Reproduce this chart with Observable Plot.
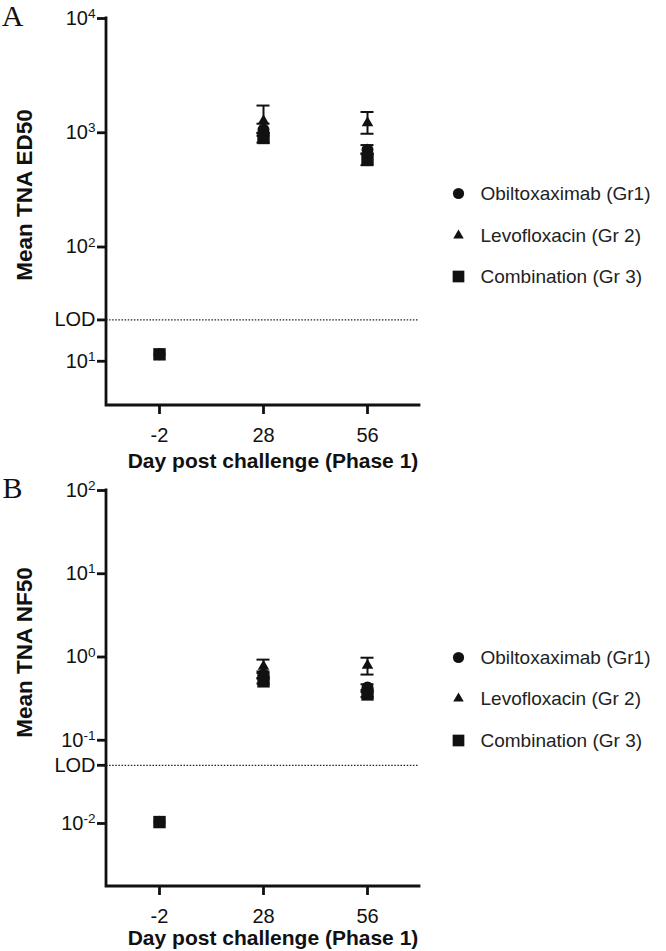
<!DOCTYPE html>
<html>
<head>
<meta charset="utf-8">
<script src="https://cdn.jsdelivr.net/npm/d3@7"></script>
<script src="https://cdn.jsdelivr.net/npm/@observablehq/plot@0.6"></script>
<style>
  html, body { margin: 0; padding: 0; background: #fff; }
  #wrap { width: 666px; }
  svg { display: block; }
</style>
</head>
<body>
<div id="wrap"></div>
<script>
// ---- data ----
const days = ["-2", "28", "56"];
const groups = ["Obiltoxaximab (Gr1)", "Levofloxacin (Gr 2)", "Combination (Gr 3)"];
const symbols = ["circle", "triangle", "square"];

// Panel A: Mean TNA ED50
const lodA = 23;
const edMean = {
  "Obiltoxaximab (Gr1)": [11.5, 1060, 710],
  "Levofloxacin (Gr 2)": [11.5, 1270, 1220],
  "Combination (Gr 3)":  [11.5, 900, 590]
};
const edLow = {
  "Obiltoxaximab (Gr1)": [11.5, 940, 650],
  "Levofloxacin (Gr 2)": [11.5, 1000, 980],
  "Combination (Gr 3)":  [11.5, 820, 520]
};
const edHigh = {
  "Obiltoxaximab (Gr1)": [11.5, 1200, 780],
  "Levofloxacin (Gr 2)": [11.5, 1730, 1520],
  "Combination (Gr 3)":  [11.5, 990, 660]
};
const ticksA = [10, 100, 1000, 10000];
const tickExpA = ["1", "2", "3", "4"];

// Panel B: Mean TNA NF50
const lodB = 0.05;
const nfMean = {
  "Obiltoxaximab (Gr1)": [0.0104, 0.61, 0.43],
  "Levofloxacin (Gr 2)": [0.0104, 0.77, 0.79],
  "Combination (Gr 3)":  [0.0104, 0.51, 0.355]
};
const nfLow = {
  "Obiltoxaximab (Gr1)": [0.0104, 0.56, 0.40],
  "Levofloxacin (Gr 2)": [0.0104, 0.64, 0.615],
  "Combination (Gr 3)":  [0.0104, 0.48, 0.33]
};
const nfHigh = {
  "Obiltoxaximab (Gr1)": [0.0104, 0.67, 0.47],
  "Levofloxacin (Gr 2)": [0.0104, 0.93, 0.98],
  "Combination (Gr 3)":  [0.0104, 0.55, 0.38]
};
const ticksB = [0.01, 0.1, 1, 10, 100];
const tickExpB = ["-2", "-1", "0", "1", "2"];

const font = "'Liberation Sans', Arial, Helvetica, sans-serif";

function rows(mean, low, high) {
  const out = [];
  groups.forEach((g, gi) => {
    days.forEach((d, di) => {
      out.push({group: g, sym: symbols[gi], day: d, y: mean[g][di], lo: low[g][di], hi: high[g][di]});
    });
  });
  return out;
}

function panel({letter, data, lod, ticks, tickExp, yDomain, ylabel, height, marginTop, marginBottom, legendDy, ylabelDy, titleDy}) {
  const expMap = new Map(ticks.map((t, i) => [t, "10^" + tickExp[i]]));
  const sizes = {circle: 6, triangle: 4.3, square: 7};
  const withErr = data.filter(d => d.hi > d.lo);
  const marks = [
    Plot.ruleY([lod], {stroke: "#222", strokeWidth: 1.3, strokeDasharray: "1.5,1.6"}),
    Plot.ruleX(withErr, {x: "day", y1: "lo", y2: "hi", stroke: "#111", strokeWidth: 2}),
    Plot.tickY(withErr, {x: "day", y: "hi", stroke: "#111", strokeWidth: 2, insetLeft: 45.5, insetRight: 45.5}),
    Plot.tickY(withErr, {x: "day", y: "lo", stroke: "#111", strokeWidth: 2, insetLeft: 45.5, insetRight: 45.5}),
  ];
  groups.forEach((g, gi) => {
    marks.push(Plot.dot(data.filter(d => d.group === g), {x: "day", y: "y", symbol: symbols[gi], r: sizes[symbols[gi]], fill: "#111", stroke: "none"}));
  });
  marks.push(
    Plot.axisY([...ticks, lod], {tickSize: 9, tickPadding: 2, tickFormat: t => t === lod ? "" : expMap.get(t), fontSize: 20, label: null}),
    Plot.text([lod], {y: d => d, frameAnchor: "left", dx: -11, textAnchor: "end", text: () => "LOD", fontSize: 20, fill: "#111"}),
    Plot.axisX({tickSize: 9, tickPadding: 13, fontSize: 20, label: null}),
    Plot.text([ylabel], {frameAnchor: "left", dx: -82, dy: ylabelDy, rotate: -90, textAnchor: "middle", lineAnchor: "middle", fontSize: 22.5, fontWeight: "bold", fill: "#111"}),
    Plot.text(["Day post challenge (Phase 1)"], {frameAnchor: "bottom", dy: titleDy, dx: 10, lineAnchor: "middle", fontSize: 21, fontWeight: "bold", fill: "#111"}),
    Plot.text([letter], {frameAnchor: "top-left", dx: -94, dy: -2, textAnchor: "middle", lineAnchor: "middle", fontSize: 30, fontFamily: "'Liberation Serif', 'Times New Roman', serif", fill: "#111"})
  );
  groups.forEach((g, gi) => {
    const dy = legendDy[gi];
    marks.push(
      Plot.dot([g], {frameAnchor: "top-right", dx: 39, dy, symbol: symbols[gi], r: sizes[symbols[gi]] - 0.4, fill: "#111", stroke: "none"}),
      Plot.text([g], {frameAnchor: "top-right", dx: 61, dy, textAnchor: "start", lineAnchor: "middle", fontSize: 19, fill: "#222"})
    );
  });
  const svg = Plot.plot({
    width: 666,
    height,
    marginLeft: 106,
    marginRight: 247,
    marginTop,
    marginBottom,
    style: {fontFamily: font, fontSize: "20px", color: "#111", background: "white", overflow: "visible"},
    x: {type: "band", domain: days, padding: 0},
    y: {type: "log", domain: yDomain},
    marks
  });
  const root = d3.select(svg);
  // thick tick marks
  root.selectAll('g[aria-label="y-axis tick"], g[aria-label="x-axis tick"]')
    .attr("stroke-width", 2.8).style("stroke-width", "2.8px").attr("stroke", "#111")
    .selectAll("path, line").attr("stroke-width", 2.8).style("stroke-width", "2.8px");
  // axis lines drawn from the plot's own scales
  const xr = svg.scale("x").range, yr = svg.scale("y").range;
  const x0 = Math.min(...xr), x1 = Math.max(...xr), yb = Math.max(...yr), yt = Math.min(...yr);
  const axisG = root.append("g").attr("aria-label", "axis lines").attr("stroke", "#111").attr("stroke-width", 2.8).attr("stroke-linecap", "square").attr("fill", "none");
  axisG.append("path").attr("d", `M${x0},${yt}V${yb}H${x1}`);
  // render exponents as raised smaller text
  root.selectAll('g[aria-label="y-axis tick label"] text').each(function() {
    const t = this.textContent;
    if (!t.includes("^")) return;
    const [base, exp] = t.split("^");
    const sel = d3.select(this);
    sel.text(null);
    sel.append("tspan").text(base);
    sel.append("tspan").attr("dy", "-0.5em").attr("font-size", "0.68em").text(exp);
  });
  return svg;
}

const wrap = document.getElementById("wrap");
wrap.appendChild(panel({
  letter: "A",
  data: rows(edMean, edLow, edHigh),
  lod: lodA, ticks: ticksA, tickExp: tickExpA,
  yDomain: [4.1, 10000], ylabel: "Mean TNA ED50",
  height: 476, marginTop: 18, marginBottom: 71,
  legendDy: [175, 217, 258], ylabelDy: -17, titleDy: 56
}));
wrap.appendChild(panel({
  letter: "B",
  data: rows(nfMean, nfLow, nfHigh),
  lod: lodB, ticks: ticksB, tickExp: tickExpB,
  yDomain: [0.00175, 100], ylabel: "Mean TNA NF50",
  height: 475, marginTop: 14, marginBottom: 65,
  legendDy: [167, 208, 250], ylabelDy: -36, titleDy: 52
}));
</script>
</body>
</html>
